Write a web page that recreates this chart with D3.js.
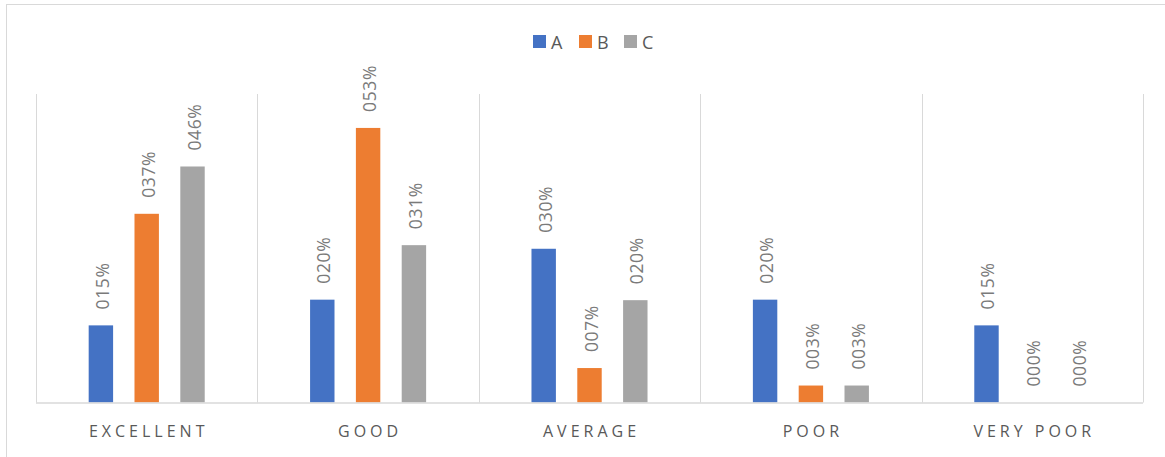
<!DOCTYPE html>
<html><head><meta charset="utf-8">
<script src="https://cdn.jsdelivr.net/npm/d3@7"></script>
<style>body{margin:0;background:#fff;} svg{display:block;font-family:"Open Sans",sans-serif;}</style>
</head><body>
<svg id="chart" width="1165" height="457"></svg>
<script>
const categories = ["EXCELLENT","GOOD","AVERAGE","POOR","VERY POOR"];
const seriesNames = ["A","B","C"];
const seriesA = [15, 20, 29.9, 20, 15];
const seriesB = [36.7, 53.4, 6.7, 3.3, 0];
const seriesC = [45.9, 30.6, 19.9, 3.3, 0];
const colors = ["#4472C4","#ED7D31","#A5A5A5"];

(function(){
const seriesValues = [seriesA, seriesB, seriesC];
const svg = d3.select("#chart");

// outer border
svg.append("rect").attr("x",6.5).attr("y",4.5).attr("width",1170).attr("height",460)
  .attr("fill","none").attr("stroke","#d9d9d9").attr("stroke-width",1);

const plotLeft = 36, plotRight = 1143, base = 402.5, plotTop = 94;
const x0 = d3.scaleBand().domain(categories).range([plotLeft, plotRight]).padding(0);
const x1 = d3.scaleBand().domain(seriesNames).range([0, x0.bandwidth()]).paddingInner(0.467).paddingOuter(1.15);
const y = d3.scaleLinear().domain([0, 60]).range([base, plotTop]);

// vertical gridlines
const gridX = categories.map(c => x0(c)).concat([plotRight]);
svg.append("g").selectAll("line").data(gridX).join("line")
  .attr("x1", d => Math.round(d)+0.5).attr("x2", d => Math.round(d)+0.5)
  .attr("y1", plotTop).attr("y2", base)
  .attr("stroke","#d9d9d9").attr("stroke-width",1);

// bars
const g = svg.append("g");
seriesNames.forEach((s, si) => {
  const gs = g.append("g");
  gs.selectAll("rect").data(categories).join("rect")
    .attr("x", c => x0(c) + x1(s))
    .attr("width", x1.bandwidth())
    .attr("y", (c,i) => y(seriesValues[si][i]))
    .attr("height", (c,i) => base - y(seriesValues[si][i]))
    .attr("fill", colors[si]);
  gs.selectAll("text").data(categories).join("text")
    .attr("transform", (c,i) => `translate(${x0(c)+x1(s)+x1.bandwidth()/2+1},${y(seriesValues[si][i]) - 16}) rotate(-90)`)
    .attr("text-anchor","start")
    .attr("dominant-baseline","central")
    .attr("font-size", 17.5)
    .attr("letter-spacing", "0.6px")
    .attr("fill","#7a7a7a")
    .text((c,i) => d3.format("03.0f")(seriesValues[si][i]) + "%");
});

// baseline axis
svg.append("line").attr("x1", plotLeft).attr("x2", plotRight).attr("y1", base+0.5).attr("y2", base+0.5)
  .attr("stroke","#d9d9d9").attr("stroke-width",1.5);

// category labels
svg.append("g").selectAll("text").data(categories).join("text")
  .attr("x", c => x0(c) + x0.bandwidth()/2 + 2)
  .attr("y", 437)
  .attr("text-anchor","middle")
  .attr("font-size", 16)
  .attr("letter-spacing", "4px")
  .attr("fill","#595959")
  .text(c => c);

// legend
const legendX = [533, 579, 624];
const lg = svg.append("g");
seriesNames.forEach((s, i) => {
  lg.append("rect").attr("x", legendX[i]).attr("y", 35).attr("width", 13).attr("height", 13).attr("fill", colors[i]);
  lg.append("text").attr("x", legendX[i] + 18).attr("y", 49).attr("font-size", 18).attr("fill","#595959").text(s);
});
})();
</script>
</body></html>
